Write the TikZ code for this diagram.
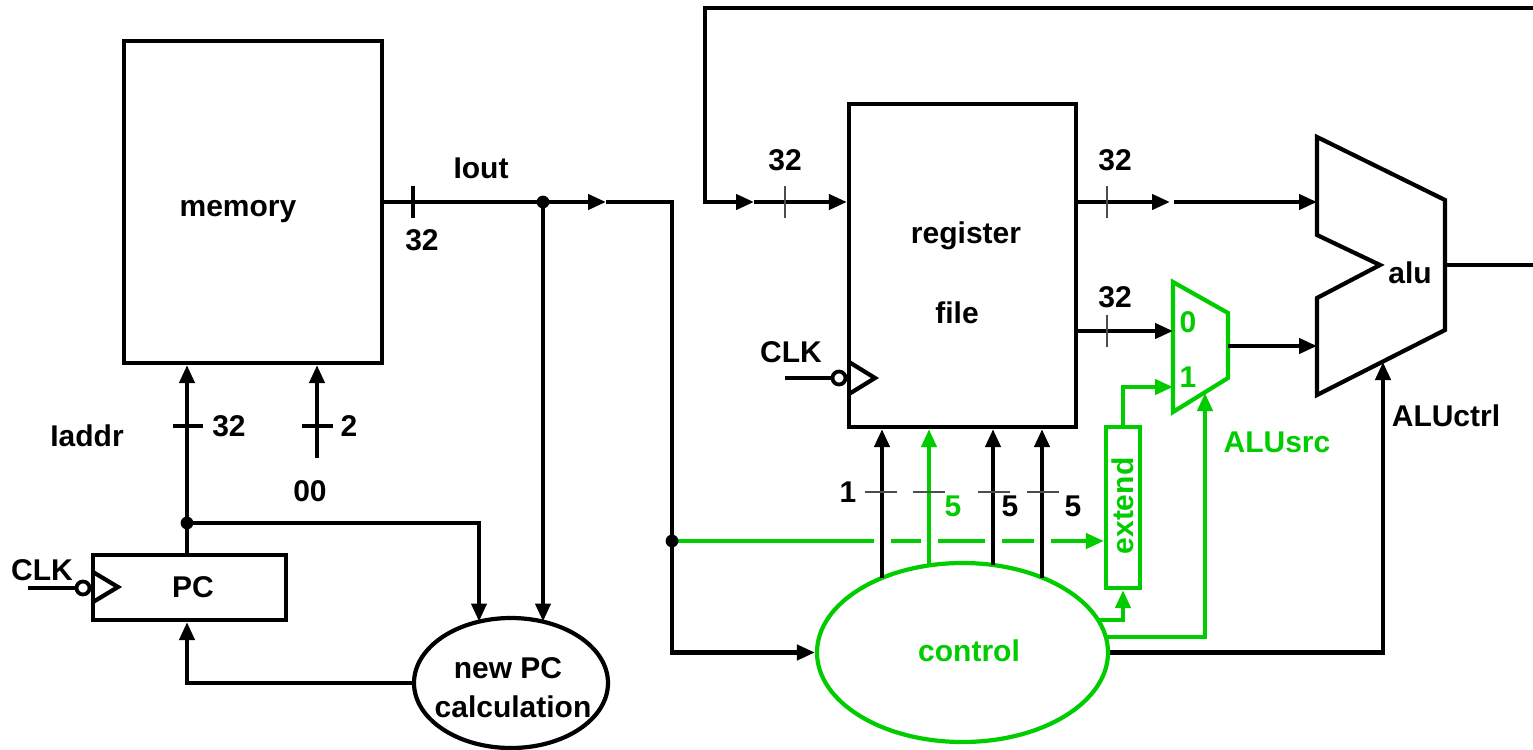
\documentclass[tikz,border=0pt]{standalone}
\usepackage{fontspec}
\setmainfont{Liberation Sans}
\usetikzlibrary{arrows.meta,calc,shapes.geometric}
\definecolor{grn}{RGB}{0,204,0}
\begin{document}
\begin{tikzpicture}[x=0.5pt,y=-0.5pt,
  wire/.style={line width=2.1pt},
  arr/.style={line width=2.1pt,-{Triangle[length=9pt,width=7.5pt]}},
  box/.style={draw,line width=2.1pt,fill=white,inner sep=0pt},
  thintick/.style={line width=0.6pt,draw=black!70},
  lbl/.style={font=\fontsize{15}{18}\selectfont\bfseries,inner sep=0pt},
  bubble/.style={circle,draw,line width=1.9pt,fill=white,minimum size=6.5pt,inner sep=0pt},
  jdot/.style={radius=3.2pt}]
\useasboundingbox (0,0) rectangle (1533,750);

% ---- blocks
\node[box,minimum width=129pt,minimum height=161pt] (mem) at (253,202) {};
\node[lbl] (memt) at (238,212) {memory};
\node[box,minimum width=113.5pt,minimum height=161.5pt] (rf) at (962.5,265.5) {};
\node[lbl] (rft1) at (966,236) {register};
\node[lbl] (rft2) at (957,313) {file};
\node[box,minimum width=96.5pt,minimum height=32.5pt] (pc) at (189.5,587.5) {};
\node[lbl] (pct) at (193,587) {PC};

% ---- green line with gaps (drawn first)
\coordinate (j3) at (672,541);
\node[box,draw=grn,minimum width=17pt,minimum height=80.5pt] (ext) at (1123,507.5) {};
\draw[arr,grn] (j3) -- (j3 -| ext.west);
\foreach \x in {882,929,993,1042} \fill[white] (\x-8.5,534) rectangle (\x+8.5,548);
\node[lbl,text=grn,rotate=90] (extt) at (1123,506) {extend};

% ---- ellipses
\node[box,ellipse,minimum width=97pt,minimum height=65pt] (npc) at (511,683) {};
\node[lbl] (npct1) at (508,668) {new PC};
\node[lbl] (npct2) at (513,707) {calculation};
\node[box,ellipse,draw=grn,minimum width=145.5pt,minimum height=89.5pt] (ctrl) at (962.5,652.5) {};
\node[lbl,text=grn] (ctrlt) at (969,651) {control};

% ---- mux
\coordinate (m1) at (1173,282); \coordinate (m2) at (1228,313);
\coordinate (m3) at (1228,378); \coordinate (m4) at (1173,412);
\draw[wire,draw=grn,line join=miter] (m1) -- (m2) -- (m3) -- (m4) -- cycle;
\node[lbl,text=grn] (mux0) at (1188,322) {0};
\node[lbl,text=grn] (mux1) at (1188,377) {1};
\coordinate (mout) at (1228,346);
\coordinate (m0in) at (1173,331);
\coordinate (m1in) at (1173,387);
\coordinate (msel) at (1205,393);

% ---- alu
\coordinate (a1) at (1317,137); \coordinate (a2) at (1445,200);
\coordinate (a3) at (1445,330); \coordinate (a4) at (1317,395);
\coordinate (a5) at (1317,298); \coordinate (a6) at (1380,265);
\coordinate (a7) at (1317,235);
\draw[wire,line join=miter] (a1) -- (a2) -- (a3) -- (a4) -- (a5) -- (a6) -- (a7) -- cycle;
\node[lbl] (alut) at (1410,273) {alu};
\coordinate (aout) at (1445,265); \coordinate (aend) at (1533,265);
\draw[wire] (aout) -- (aend);
\coordinate (ain1) at (1317,202); \coordinate (ain2) at (1317,346);
\coordinate (actl) at (1383,362);

% ---- feedback from top
\coordinate (fbr) at (1533,8); \coordinate (fbm) at (754,202);
\draw[arr] (fbr) -- (705,8) -- (705,202) -- (fbm);
\draw[arr] (fbm) -- (fbm -| rf.west);
\draw[thintick] (785,186) -- (785,218);
\node[lbl] (n32a) at (785,160) {32};

% ---- Iout
\coordinate (iom) at (606,202); \coordinate (j1) at (543,202);
\draw[arr] (mem.east) -- (iom);
\draw[wire] (iom) -- (672,202) -- (j3);
\draw[arr] (j3) |- (ctrl.west);
\fill (j1) circle[jdot]; \fill (j3) circle[jdot];
\draw[wire] (413,186) -- (413,218);
\node[lbl] (n32b) at (422,240) {32};
\node[lbl] (ioutt) at (481,168) {Iout};
\draw[arr] (j1) -- ($(npc.center)+(32,-61.5)$);

% ---- PC / address
\coordinate (j2) at (187,523);
\draw[wire] (j2 |- pc.north) -- (j2);
\draw[arr] (j2) -- (j2 |- mem.south);
\fill (j2) circle[jdot];
\draw[arr] (j2) -| ($(npc.center)+(-32,-61.5)$);
\draw[arr] (npc.west) -| (j2 |- pc.south);
\draw[wire] (173,426) -- (203,426);
\node[lbl] (n32c) at (229,426) {32};
\node[lbl] (iaddr) at (87,436) {Iaddr};
\coordinate (z0) at (317,458);
\draw[arr] (z0) -- (z0 |- mem.south);
\draw[wire] (302,426) -- (333,426);
\node[lbl] (n2) at (349,426) {2};
\node[lbl] (n00) at (310,491) {00};

% ---- PC clock
\node[bubble] (b1) at (83,588) {};
\coordinate (clk1) at (28,588);
\draw[wire] (clk1) -- (b1.west);
\draw[wire,line join=miter] (93,572) -- (118,587) -- (93,602);
\node[lbl] (clkt1) at (42,570) {CLK};

% ---- RF clock
\node[bubble] (b2) at (839,378) {};
\coordinate (clk2) at (785,378);
\draw[wire] (clk2) -- (b2.west);
\draw[wire,line join=miter] (849,362) -- (875,378) -- (849,394);
\node[lbl] (clkt2) at (791,352) {CLK};

% ---- RF outputs
\coordinate (o1m) at (1170,202); \coordinate (o1s) at (1174,202);
\draw[arr] (o1m -| rf.east) -- (o1m);
\draw[arr] (o1s) -- (ain1);
\draw[thintick] (1107,186) -- (1107,218);
\node[lbl] (n32d) at (1115,160) {32};
\draw[arr] (m0in -| rf.east) -- (m0in);
\draw[thintick] (1107,315) -- (1107,347);
\node[lbl] (n32e) at (1115,297) {32};
\draw[arr] (mout) -- (ain2);

% ---- control to RF
\draw[arr] ($(ctrl.center)+(-80.5,-74.5)$) coordinate (c1) -- (c1 |- rf.south);
\draw[arr,grn] ($(ctrl.center)+(-33.5,-87.1)$) coordinate (c2) -- (c2 |- rf.south);
\draw[arr] ($(ctrl.center)+(30.5,-87.5)$) coordinate (c3) -- (c3 |- rf.south);
\draw[arr] ($(ctrl.center)+(79.5,-75)$) coordinate (c4) -- (c4 |- rf.south);
\draw[thintick] (865,492) -- (897,492);
\draw[thintick] (913,492) -- (945,492);
\draw[thintick] (978,492) -- (1010,492);
\draw[thintick] (1027,492) -- (1059,492);
\node[lbl] (w1) at (848,492) {1};
\node[lbl,text=grn] (w2) at (953,506) {5};
\node[lbl] (w3) at (1010,506) {5};
\node[lbl] (w4) at (1073,506) {5};

% ---- control to extend, mux, alu
\draw[arr,grn] (ext.north) |- (m1in);
\draw[arr,grn] ($(ctrl.center)+(135.5,-32.5)$) -| (ext.south);
\draw[arr,grn] ($(ctrl.center)+(143.3,-15.5)$) -| (msel);
\draw[arr] (ctrl.east) -| (actl);
\node[lbl,text=grn] (alusrc) at (1277,442) {ALUsrc};
\node[lbl] (aluctrl) at (1446,416) {ALUctrl};
\end{tikzpicture}
\end{document}
